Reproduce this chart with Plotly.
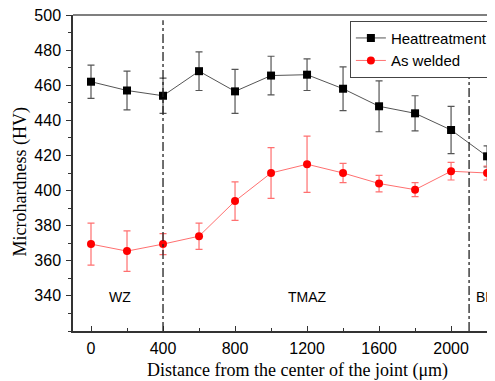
import plotly.graph_objects as go

distance = [0, 200, 400, 600, 800, 1000, 1200, 1400, 1600, 1800, 2000, 2200]
heat_hv = [462, 457, 454, 468, 456.5, 465.5, 466, 458, 448, 444, 434.5, 419.5]
heat_err = [9.5, 11, 10, 11, 12.5, 11, 9, 12.5, 14.5, 10, 13.5, 6]
weld_hv = [369.5, 365.5, 369.5, 374, 394, 410, 415, 410, 404, 400.5, 411, 410]
weld_err = [12, 11.5, 6, 7.5, 11, 14.5, 16, 5.5, 4.7, 4, 5, 4]
zone_bounds = [400, 2100]
zone_labels = ["WZ", "TMAZ", "BM"]
zone_label_x = [161, 1205, 2130]
x_title = "Distance from the center of the joint (μm)"
y_title = "Microhardness (HV)"

fig = go.Figure()
fig.add_trace(go.Scatter(
    x=distance, y=heat_hv, name="Heattreatment", mode="lines+markers",
    line=dict(color="#555555", width=1),
    marker=dict(symbol="square", size=8, color="black"),
    error_y=dict(type="data", array=heat_err, visible=True, color="#555555", thickness=1.2, width=3.5),
))
fig.add_trace(go.Scatter(
    x=distance, y=weld_hv, name="As welded", mode="lines+markers",
    line=dict(color="#ff7070", width=1),
    marker=dict(symbol="circle", size=8, color="#ff0000"),
    error_y=dict(type="data", array=weld_err, visible=True, color="#ff7070", thickness=1.2, width=3.5),
))

# zone boundaries
fig.add_shape(type="line", x0=zone_bounds[0], x1=zone_bounds[0], y0=320, y1=497,
              line=dict(color="#222222", width=1.3, dash="dashdot"))
fig.add_shape(type="line", x0=zone_bounds[1], x1=zone_bounds[1], y0=320, y1=470,
              line=dict(color="#222222", width=1.3, dash="dashdot"))

for lab, xv in zip(zone_labels, zone_label_x):
    fig.add_annotation(x=xv, y=339.5, text=lab, showarrow=False,
                       xanchor="left" if lab == "BM" else "center",
                       font=dict(family="Liberation Sans, Arial", size=14, color="black"))

# axis titles
fig.add_annotation(xref="paper", yref="paper", x=0.531, y=0, yshift=-39,
                   xanchor="center", yanchor="middle", showarrow=False, text=x_title,
                   font=dict(family="Liberation Serif, Times New Roman", size=18, color="black"))
fig.add_annotation(xref="paper", yref="paper", x=0, xshift=-53, y=0.47,
                   xanchor="center", yanchor="middle", showarrow=False, text=y_title,
                   textangle=-90,
                   font=dict(family="Liberation Serif, Times New Roman", size=18, color="black"))

fig.update_layout(
    width=487, height=373,
    margin=dict(l=65, r=0, t=7, b=50, autoexpand=False),
    paper_bgcolor="white", plot_bgcolor="white",
    showlegend=True,
    legend=dict(x=0.995, y=0.982, xanchor="right", yanchor="top",
                bordercolor="#444444", borderwidth=1, bgcolor="white",
                font=dict(family="Liberation Sans, Arial", size=15, color="black"),
                tracegroupgap=0, itemwidth=30, entrywidth=110, entrywidthmode="pixels"),
)
fig.update_xaxes(
    range=[-100, 2244], tickvals=[0, 400, 800, 1200, 1600, 2000],
    ticks="inside", ticklen=5, tickcolor="#333333",
    minor=dict(dtick=200, tick0=0, ticks="inside", ticklen=3, tickcolor="#333333"),
    showgrid=False, zeroline=False, showline=True, linecolor="#333333", linewidth=1.5,
    mirror=False, automargin=False, ticklabelstandoff=2,
    tickfont=dict(family="Liberation Sans, Arial", size=16, color="black"),
)
fig.update_yaxes(
    range=[320, 500], tickvals=[340, 360, 380, 400, 420, 440, 460, 480, 500],
    ticks="outside", ticklen=5, tickcolor="#333333",
    minor=dict(dtick=10, tick0=320, ticks="outside", ticklen=3, tickcolor="#333333"),
    showgrid=False, zeroline=False, showline=True, linecolor="#333333", linewidth=1.5,
    mirror=False, automargin=False, ticklabelstandoff=2, ticklabeloverflow="allow",
    tickfont=dict(family="Liberation Sans, Arial", size=16, color="black"),
)
# top frame line
fig.add_shape(type="line", xref="paper", yref="paper", x0=0, x1=1, y0=1, y1=1,
              line=dict(color="#555555", width=1.5))

fig.write_html("out.html")
